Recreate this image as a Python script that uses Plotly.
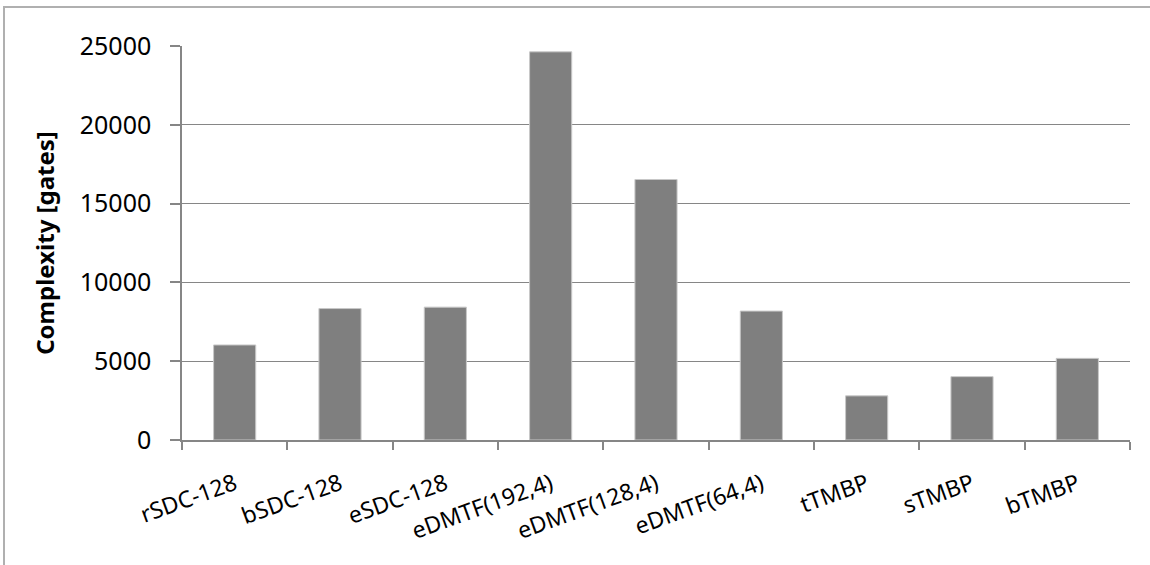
import plotly.graph_objects as go

categories = ["rSDC-128", "bSDC-128", "eSDC-128", "eDMTF(192,4)", "eDMTF(128,4)",
              "eDMTF(64,4)", "tTMBP", "sTMBP", "bTMBP"]
complexity = [6030, 8340, 8430, 24630, 16530, 8180, 2800, 4020, 5180]
y_ticks = [0, 5000, 10000, 15000, 20000, 25000]

FONT = "'Noto Sans', 'Open Sans', sans-serif"

fig = go.Figure()
fig.add_trace(go.Bar(
    x=categories, y=complexity,
    marker=dict(color="#7f7f7f", line=dict(color="#c8c8c8", width=1)),
    width=0.4,
))

L, R, T, B = 182, 20, 46, 124.5
W, H = 1150, 565
pw = W - L - R
ph = H - T - B

def px_x(p):
    return (p - L) / pw

def px_y(p):
    return (H - B - p) / ph

fig.update_layout(
    width=W, height=H,
    margin=dict(l=L, r=R, t=T, b=B, pad=0),
    paper_bgcolor="white", plot_bgcolor="white",
    showlegend=False,
    font=dict(family=FONT, size=22, color="#000000"),
    xaxis=dict(
        type="category",
        tickangle=-20,
        tickson="boundaries",
        ticks="outside", ticklen=8, tickcolor="#868686", tickwidth=1.5,
        showline=True, linecolor="#868686", linewidth=1.5,
        showgrid=False,
        tickfont=dict(family=FONT, size=23, color="#000000"),
        ticklabelstandoff=20,
    ),
    yaxis=dict(
        range=[0, 25000],
        tickvals=y_ticks,
        ticktext=[str(v) for v in y_ticks],
        ticks="outside", ticklen=10, tickcolor="#868686", tickwidth=1.5,
        showline=True, linecolor="#868686", linewidth=1.5,
        showgrid=True, gridcolor="#868686", gridwidth=1.2,
        zeroline=False,
        tickfont=dict(family=FONT, size=25, color="#000000"),
        ticklabelstandoff=14,
        title=dict(text="<b>Complexity [gates]</b>", font=dict(family=FONT, size=24, color="#000000"), standoff=18),
    ),
    shapes=[dict(
        type="rect", xref="paper", yref="paper",
        x0=px_x(4), x1=px_x(1170), y0=px_y(590), y1=px_y(7),
        line=dict(color="#b0b0b0", width=2), fillcolor="rgba(0,0,0,0)", layer="below",
    )],
)

fig.write_html("out.html", config={"displayModeBar": False},
               post_script="document.body.style.margin='0';")
